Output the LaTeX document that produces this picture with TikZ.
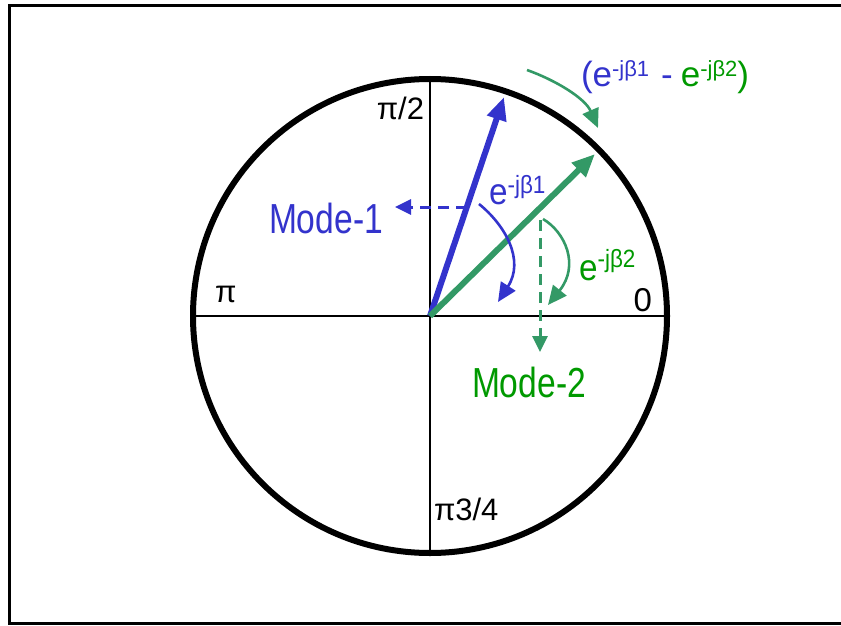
\documentclass[tikz,border=0pt]{standalone}
\usepackage{fontspec}
\setmainfont{Liberation Sans}
\usetikzlibrary{arrows.meta}
\definecolor{myblue}{RGB}{51,51,204}
\definecolor{mygreen}{RGB}{51,153,102}
\definecolor{txtgreen}{RGB}{0,153,0}
\newcommand{\fsz}[1]{\fontsize{#1}{#1}\selectfont}
\begin{document}
\begin{tikzpicture}[x=1pt,y=-1pt,
  lbl/.style={inner sep=0pt, outer sep=0pt},
  frameline/.style={line width=3pt, line cap=rect},
  axis/.style={line width=2.5pt},
  phasor/.style={line width=6pt, -{Triangle[length=23pt,width=19pt]}},
  dashedarrow/.style={line width=3pt, dash pattern=on 11pt off 7pt, -{Triangle[length=16pt,width=15pt]}},
  turnarrow/.style={line width=2.6pt, -{Triangle[length=19pt,width=17pt]}}]
\useasboundingbox (0,0) rectangle (841,626);
% frame (open on the right)
\draw[frameline] (845,5.5) -- (9,5.5) -- (9,623) -- (845,623);
% circle and axes
\coordinate (C) at (430,316);
\draw[line width=6pt] (C) circle[radius=237];
\coordinate (W) at (193,316);
\coordinate (E) at (667,316);
\coordinate (N) at (430,79);
\coordinate (S) at (430,553);
\draw[axis] (W) -- (E);
\draw[axis] (N) -- (S);
% axis labels
\node[lbl, anchor=base east] (lhalf) at (424,119) {\fsz{31}π/2};
\node[lbl, anchor=base west] (lpi) at (215,302) {\fsz{31}π};
\node[lbl, anchor=base east] (lzero) at (652,311) {\fsz{33}0};
\node[lbl, anchor=base west] (lthree) at (434,520) {\fsz{31}π3/4};
% phasors
\coordinate (B) at (504,97);
\coordinate (G) at (595,154);
\draw[phasor, myblue] (C) -- (B);
\draw[phasor, mygreen] (C) -- (G);
% projections
\coordinate (b1) at (467,207);
\coordinate (b2) at (395,207);
\draw[dashedarrow, myblue] (b1) -- (b2);
\coordinate (g1) at (540,220);
\coordinate (g2) at (540,352);
\draw[dashedarrow, mygreen] (g1) -- (g2);
% rotation arrows
\coordinate (r1s) at (479,204);
\coordinate (r1e) at (498,302);
\draw[turnarrow, myblue] (r1s) .. controls (505,225) and (525,260) .. (r1e);
\coordinate (r2s) at (543,219);
\coordinate (r2e) at (548,305);
\draw[turnarrow, mygreen] (r2s) .. controls (565,232) and (580,265) .. (r2e);
\coordinate (r3s) at (527,70);
\coordinate (r3e) at (598,128);
\draw[turnarrow, mygreen] (r3s) .. controls (555,80) and (585,98) .. (r3e);
% mode labels
\node[lbl, anchor=base west, text=myblue] (m1) at (269,233) {\scalebox{0.8}[1]{\fsz{42}Mode-1}};
\node[lbl, anchor=base west, text=txtgreen] (m2) at (472,397) {\scalebox{0.8}[1]{\fsz{42}Mode-2}};
% phase labels
\node[lbl, anchor=base west, text=myblue] (e1) at (489,204) {\scalebox{0.9}[1]{\fsz{37}e\raisebox{11pt}{\fsz{25}-jβ1}}};
\node[lbl, anchor=base west, text=txtgreen] (e2) at (579,280) {\scalebox{0.9}[1]{\fsz{37}e\raisebox{13pt}{\fsz{25}-jβ2}}};
\node[lbl, anchor=base west] (ediff) at (581,87) {\fsz{35}\textcolor{myblue}{(e\raisebox{10pt}{\fsz{22}-jβ1}\hspace{12pt}-}\hspace{8pt}\textcolor{txtgreen}{e\raisebox{10pt}{\fsz{22}-jβ2})}};
\end{tikzpicture}
\end{document}
